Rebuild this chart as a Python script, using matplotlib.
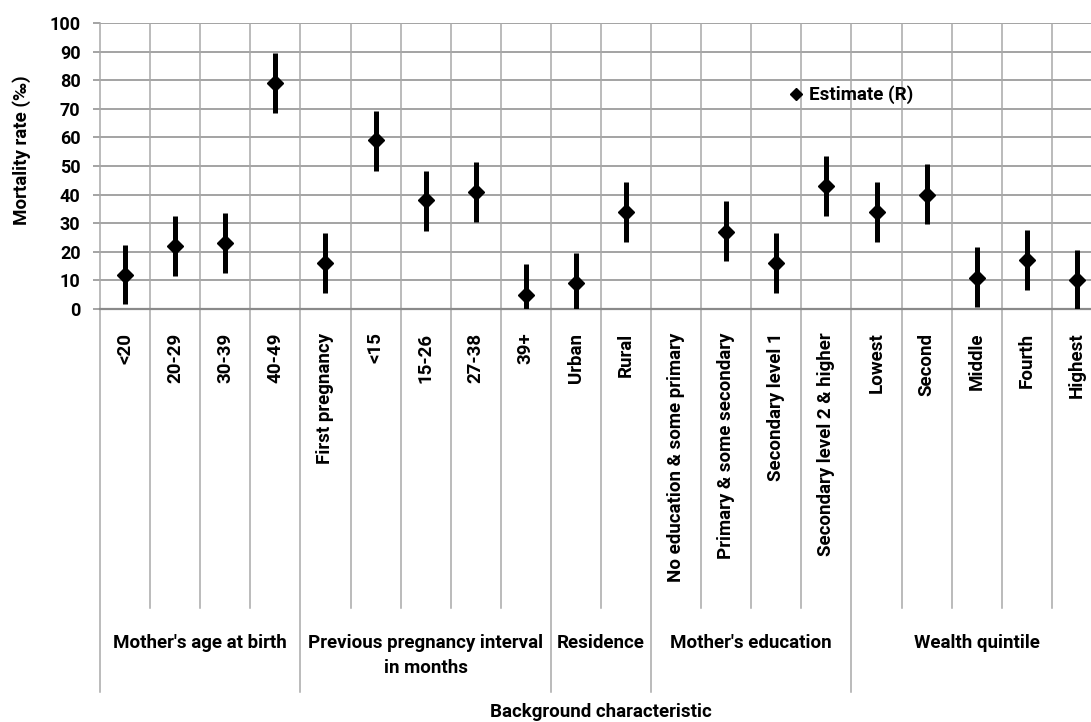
import numpy as np
import matplotlib
matplotlib.use("Agg")
import matplotlib.pyplot as plt
from matplotlib.transforms import blended_transform_factory
from matplotlib.lines import Line2D

plt.rcParams['font.family'] = ['Roboto', 'DejaVu Sans']
plt.rcParams['font.weight'] = 'bold'

# Categories and their groups
categories = ["<20", "20-29", "30-39", "40-49",
              "First pregnancy", "<15", "15-26", "27-38", "39+",
              "Urban", "Rural",
              "No education & some primary", "Primary & some secondary",
              "Secondary level 1", "Secondary level 2 & higher",
              "Lowest", "Second", "Middle", "Fourth", "Highest"]
groups = ["Mother's age at birth", "Previous pregnancy interval\nin months",
          "Residence", "Mother's education", "Wealth quintile"]
group_sizes = [4, 5, 2, 4, 5]

# Estimates with lower / upper bounds (per mille)
estimate = [12, 22, 23, 79, 16, 59, 38, 41, 5, 9, 34,
            np.nan, 27, 16, 43, 34, 40, 11, 17, 10]
lower = [1.7, 11.5, 12.7, 68.6, 5.6, 48.4, 27.4, 30.5, 0, 0, 23.5,
         np.nan, 16.9, 5.7, 32.6, 23.5, 29.6, 0.8, 6.8, 0]
upper = [22.4, 32.5, 33.7, 89.6, 26.6, 69.3, 48.3, 51.4, 15.7, 19.6, 44.4,
         np.nan, 37.8, 26.6, 53.5, 44.4, 50.7, 21.7, 27.6, 20.6]

W, H = 1091, 722
fig = plt.figure(figsize=(W / 100, H / 100), dpi=100)
left_px, right_px, top_px, bot_px = 100, 1102, 23, 309
ax = fig.add_axes([left_px / W, 1 - bot_px / H,
                   (right_px - left_px) / W, (bot_px - top_px) / H])

n = len(categories)
x = np.arange(n) + 0.5
est = np.array(estimate, dtype=float)
lo = np.array(lower, dtype=float)
hi = np.array(upper, dtype=float)

ax.set_xlim(0, n)
ax.set_ylim(0, 100)

# grid
for yv in range(10, 101, 10):
    ax.axhline(yv, color="#8a8a8a", lw=1.1, zorder=1)
for xv in range(1, n):
    ax.axvline(xv, color="#a8a8a8", lw=1.1, zorder=1)

for s in ["top", "right"]:
    ax.spines[s].set_visible(False)
ax.spines["left"].set_color("#a8a8a8")
ax.spines["left"].set_linewidth(1.1)
ax.spines["bottom"].set_color("#8a8a8a")
ax.spines["bottom"].set_linewidth(1.6)

ax.errorbar(x, est, yerr=[est - lo, hi - est], fmt="none", ecolor="black",
            elinewidth=3.6, capsize=0, zorder=3)
ax.plot(x, est, "D", color="black", ms=8.5, zorder=4, label="Estimate (R)")

ax.set_yticks(range(0, 101, 10))
ax.tick_params(axis="y", length=5, width=1.1, color="#8a8a8a", pad=9,
               labelsize=13)
ax.set_xticks(x)
ax.set_xticklabels(categories, rotation=90, va="top", ha="center",
                   fontsize=13.5)
ax.tick_params(axis="x", length=0, pad=17)

# category separators below the axis
tr = blended_transform_factory(ax.transData, fig.transFigure)
bounds = np.concatenate([[0], np.cumsum(group_sizes)])
for xv in range(0, n + 1):
    y_end = 692 if xv in bounds else 608
    ax.add_line(Line2D([xv, xv], [1 - bot_px / H, 1 - y_end / H],
                       transform=tr, color="#a8a8a8", lw=1.1, clip_on=False))

for g, a, b in zip(groups, bounds[:-1], bounds[1:]):
    ax.text((a + b) / 2, 1 - 634 / H, g, transform=tr, ha="center",
            va="top", fontsize=13.5, linespacing=1.5)

ax.text((0 + n) / 2, 1 - 712 / H, "Background characteristic", transform=tr,
        ha="center", va="center", fontsize=13.5)
fig.text(22 / W, 1 - 150 / H, "Mortality rate (‰)", rotation=90,
         ha="center", va="center", fontsize=13.5)

leg = fig.legend(loc="center left", bbox_to_anchor=(788 / W, 1 - 95 / H),
                 frameon=False, handlelength=0.8, handletextpad=0.3,
                 borderpad=0, borderaxespad=0, markerscale=0.75,
                 prop={"size": 13.5, "weight": "bold"})

fig.savefig("out.png", dpi=100)
